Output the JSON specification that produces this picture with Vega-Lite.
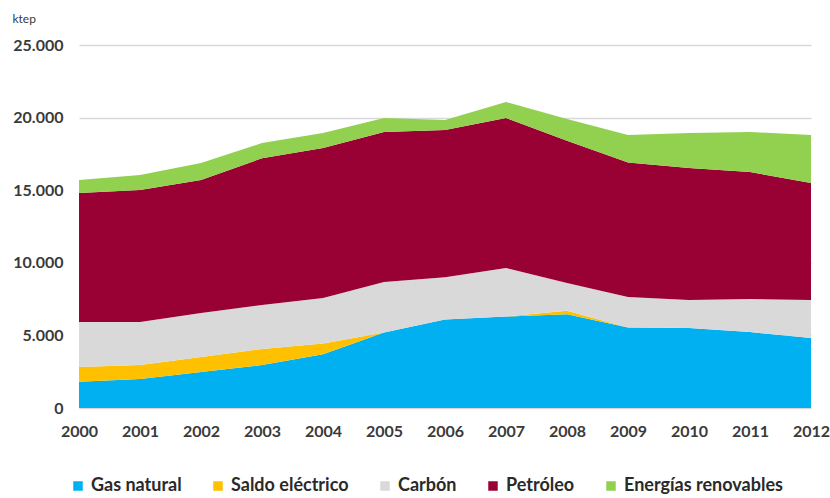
{
  "$schema": "https://vega.github.io/schema/vega-lite/v6.json",
  "width": 732,
  "height": 363,
  "autosize": "none",
  "padding": {"left": 79, "top": 45, "right": 19, "bottom": 90},
  "background": "white",
  "config": {
    "view": {"stroke": null},
    "font": "Lato"
  },
  "data": {
    "values": [
      {"year": 2000, "fuente": "Gas natural", "ktep": 1800},
      {"year": 2000, "fuente": "Saldo eléctrico", "ktep": 1020},
      {"year": 2000, "fuente": "Carbón", "ktep": 3100},
      {"year": 2000, "fuente": "Petróleo", "ktep": 8880},
      {"year": 2000, "fuente": "Energías renovables", "ktep": 900},
      {"year": 2001, "fuente": "Gas natural", "ktep": 2000},
      {"year": 2001, "fuente": "Saldo eléctrico", "ktep": 960},
      {"year": 2001, "fuente": "Carbón", "ktep": 2960},
      {"year": 2001, "fuente": "Petróleo", "ktep": 9090},
      {"year": 2001, "fuente": "Energías renovables", "ktep": 1040},
      {"year": 2002, "fuente": "Gas natural", "ktep": 2480},
      {"year": 2002, "fuente": "Saldo eléctrico", "ktep": 1030},
      {"year": 2002, "fuente": "Carbón", "ktep": 3030},
      {"year": 2002, "fuente": "Petróleo", "ktep": 9160},
      {"year": 2002, "fuente": "Energías renovables", "ktep": 1170},
      {"year": 2003, "fuente": "Gas natural", "ktep": 2960},
      {"year": 2003, "fuente": "Saldo eléctrico", "ktep": 1100},
      {"year": 2003, "fuente": "Carbón", "ktep": 3030},
      {"year": 2003, "fuente": "Petróleo", "ktep": 10110},
      {"year": 2003, "fuente": "Energías renovables", "ktep": 1050},
      {"year": 2004, "fuente": "Gas natural", "ktep": 3700},
      {"year": 2004, "fuente": "Saldo eléctrico", "ktep": 750},
      {"year": 2004, "fuente": "Carbón", "ktep": 3130},
      {"year": 2004, "fuente": "Petróleo", "ktep": 10320},
      {"year": 2004, "fuente": "Energías renovables", "ktep": 1040},
      {"year": 2005, "fuente": "Gas natural", "ktep": 5200},
      {"year": 2005, "fuente": "Saldo eléctrico", "ktep": 0},
      {"year": 2005, "fuente": "Carbón", "ktep": 3480},
      {"year": 2005, "fuente": "Petróleo", "ktep": 10320},
      {"year": 2005, "fuente": "Energías renovables", "ktep": 970},
      {"year": 2006, "fuente": "Gas natural", "ktep": 6100},
      {"year": 2006, "fuente": "Saldo eléctrico", "ktep": 0},
      {"year": 2006, "fuente": "Carbón", "ktep": 2900},
      {"year": 2006, "fuente": "Petróleo", "ktep": 10150},
      {"year": 2006, "fuente": "Energías renovables", "ktep": 680},
      {"year": 2007, "fuente": "Gas natural", "ktep": 6300},
      {"year": 2007, "fuente": "Saldo eléctrico", "ktep": 0},
      {"year": 2007, "fuente": "Carbón", "ktep": 3340},
      {"year": 2007, "fuente": "Petróleo", "ktep": 10330},
      {"year": 2007, "fuente": "Energías renovables", "ktep": 1100},
      {"year": 2008, "fuente": "Gas natural", "ktep": 6450},
      {"year": 2008, "fuente": "Saldo eléctrico", "ktep": 250},
      {"year": 2008, "fuente": "Carbón", "ktep": 1910},
      {"year": 2008, "fuente": "Petróleo", "ktep": 9790},
      {"year": 2008, "fuente": "Energías renovables", "ktep": 1500},
      {"year": 2009, "fuente": "Gas natural", "ktep": 5550},
      {"year": 2009, "fuente": "Saldo eléctrico", "ktep": 0},
      {"year": 2009, "fuente": "Carbón", "ktep": 2090},
      {"year": 2009, "fuente": "Petróleo", "ktep": 9260},
      {"year": 2009, "fuente": "Energías renovables", "ktep": 1900},
      {"year": 2010, "fuente": "Gas natural", "ktep": 5510},
      {"year": 2010, "fuente": "Saldo eléctrico", "ktep": 0},
      {"year": 2010, "fuente": "Carbón", "ktep": 1930},
      {"year": 2010, "fuente": "Petróleo", "ktep": 9090},
      {"year": 2010, "fuente": "Energías renovables", "ktep": 2410},
      {"year": 2011, "fuente": "Gas natural", "ktep": 5230},
      {"year": 2011, "fuente": "Saldo eléctrico", "ktep": 0},
      {"year": 2011, "fuente": "Carbón", "ktep": 2280},
      {"year": 2011, "fuente": "Petróleo", "ktep": 8740},
      {"year": 2011, "fuente": "Energías renovables", "ktep": 2760},
      {"year": 2012, "fuente": "Gas natural", "ktep": 4820},
      {"year": 2012, "fuente": "Saldo eléctrico", "ktep": 0},
      {"year": 2012, "fuente": "Carbón", "ktep": 2620},
      {"year": 2012, "fuente": "Petróleo", "ktep": 8060},
      {"year": 2012, "fuente": "Energías renovables", "ktep": 3300}
    ]
  },
  "transform": [
    {"calculate": "indexof(['Gas natural', 'Saldo eléctrico', 'Carbón', 'Petróleo', 'Energías renovables'], datum.fuente)", "as": "orden"}
  ],
  "mark": {"type": "area", "interpolate": "linear"},
  "encoding": {
    "x": {
      "field": "year",
      "type": "quantitative",
      "scale": {"domain": [2000, 2012], "nice": false, "zero": false},
      "axis": {
        "values": [2000, 2001, 2002, 2003, 2004, 2005, 2006, 2007, 2008, 2009, 2010, 2011, 2012],
        "format": "d",
        "title": null,
        "grid": false,
        "domain": false,
        "ticks": false,
        "labelPadding": 15,
        "labelFontSize": 16,
        "labelFontWeight": "bold",
        "labelColor": "#3a3a3a",
        "labelFlush": false
      }
    },
    "y": {
      "field": "ktep",
      "type": "quantitative",
      "stack": "zero",
      "scale": {"domain": [0, 25000], "nice": false},
      "axis": {
        "values": [0, 5000, 10000, 15000, 20000, 25000],
        "labelExpr": "replace(format(datum.value, ','), ',', '.')",
        "grid": true,
        "gridColor": "#d9d9d9",
        "gridWidth": 1.5,
        "domain": false,
        "ticks": false,
        "labelPadding": 16,
        "labelFontSize": 16,
        "labelFontWeight": "bold",
        "labelColor": "#3a3a3a",
        "title": "ktep",
        "titleAngle": 0,
        "titleAlign": "left",
        "titleBaseline": "middle",
        "titleX": -67,
        "titleY": -27,
        "titleFontSize": 12,
        "titleFontWeight": "normal",
        "titleColor": "#3a3a3a"
      }
    },
    "order": {"field": "orden", "type": "quantitative", "sort": "ascending"},
    "color": {
      "field": "fuente",
      "type": "nominal",
      "sort": ["Gas natural", "Saldo eléctrico", "Carbón", "Petróleo", "Energías renovables"],
      "scale": {
        "domain": ["Gas natural", "Saldo eléctrico", "Carbón", "Petróleo", "Energías renovables"],
        "range": ["#00B0F0", "#FFC000", "#D9D9D9", "#990033", "#92D050"]
      },
      "legend": {
        "title": null,
        "orient": "none",
        "legendX": -10,
        "legendY": 432,
        "direction": "horizontal",
        "symbolType": "square",
        "symbolSize": 90,
        "symbolStrokeWidth": 0,
        "labelFontSize": 18,
        "labelFontWeight": "bold",
        "labelColor": "#2a2a2a",
        "labelOffset": 4,
        "columnPadding": 27,
        "padding": 0
      }
    }
  }
}
